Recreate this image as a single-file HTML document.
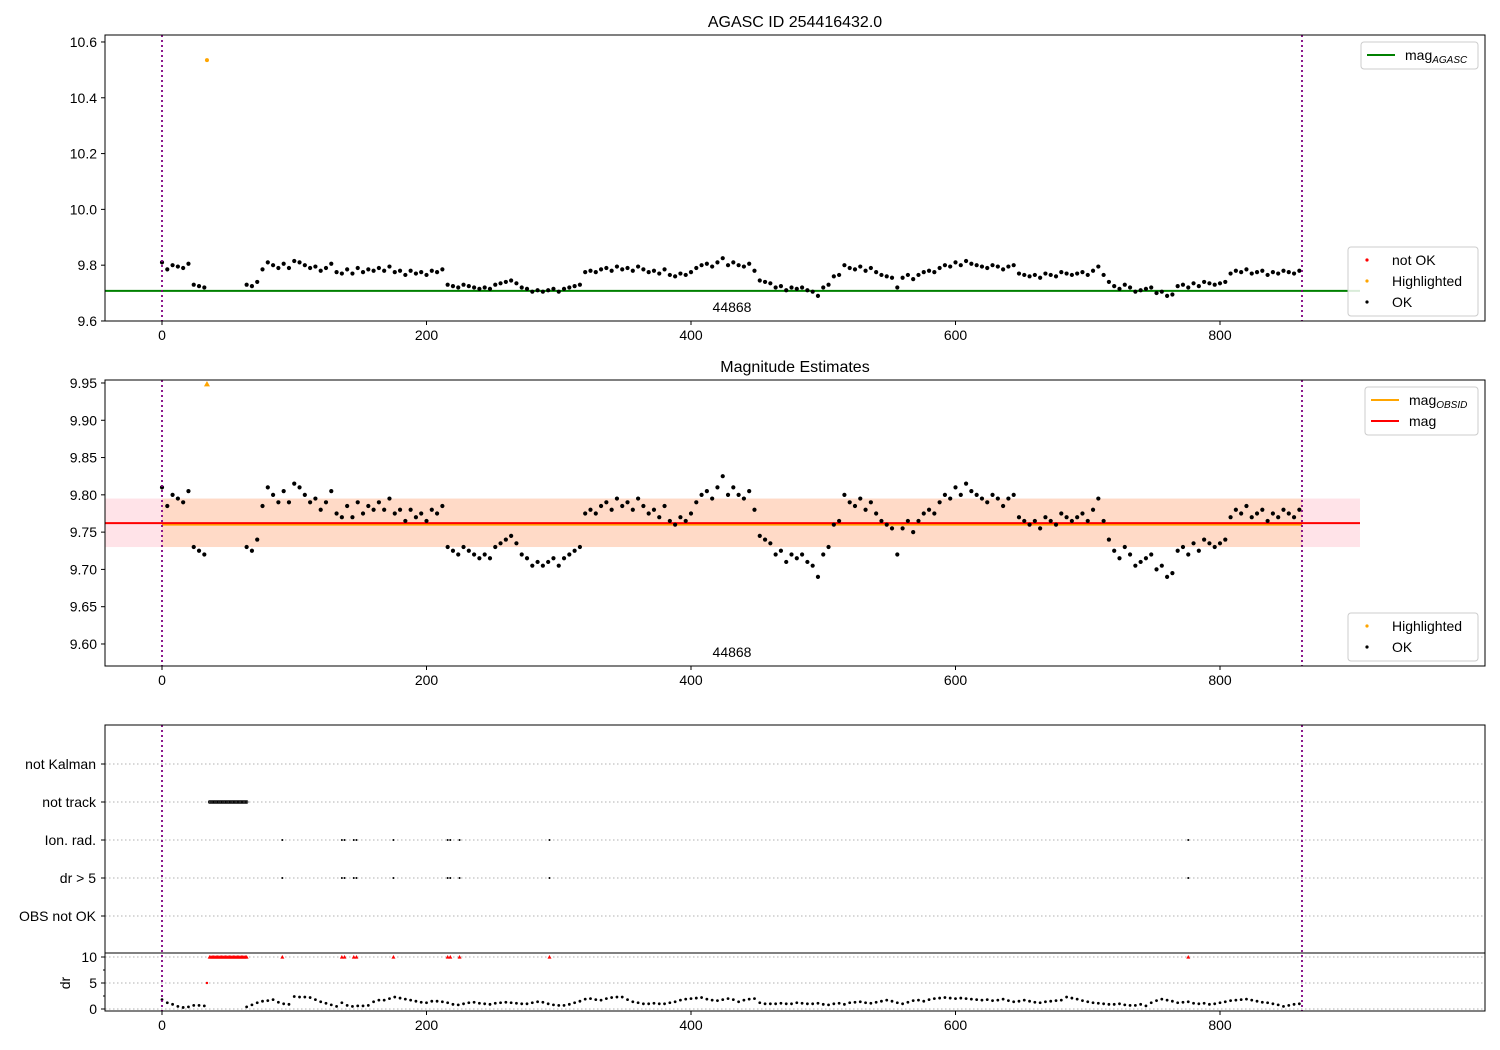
<!DOCTYPE html>
<html><head><meta charset="utf-8"><style>
body{margin:0;background:#fff}
svg{font-family:"Liberation Sans","DejaVu Sans",sans-serif;display:block}
</style></head><body>
<svg id="fig" width="1500" height="1050" xmlns="http://www.w3.org/2000/svg"></svg>
<script>
const frames = [0,4,8,12,16,20,24,28,32,64,68,72,76,80,84,88,92,96,100,104,108,112,116,120,124,128,132,136,140,144,148,152,156,160,164,168,172,176,180,184,188,192,196,200,204,208,212,216,220,224,228,232,236,240,244,248,252,256,260,264,268,272,276,280,284,288,292,296,300,304,308,312,316,320,324,328,332,336,340,344,348,352,356,360,364,368,372,376,380,384,388,392,396,400,404,408,412,416,420,424,428,432,436,440,444,448,452,456,460,464,468,472,476,480,484,488,492,496,500,504,508,512,516,520,524,528,532,536,540,544,548,552,556,560,564,568,572,576,580,584,588,592,596,600,604,608,612,616,620,624,628,632,636,640,644,648,652,656,660,664,668,672,676,680,684,688,692,696,700,704,708,712,716,720,724,728,732,736,740,744,748,752,756,760,764,768,772,776,780,784,788,792,796,800,804,808,812,816,820,824,828,832,836,840,844,848,852,856,860];
const magValues = [9.81,9.785,9.80,9.795,9.79,9.805,9.73,9.725,9.72,9.73,9.725,9.74,9.785,9.81,9.80,9.79,9.805,9.79,9.815,9.81,9.80,9.79,9.795,9.78,9.79,9.805,9.775,9.77,9.785,9.77,9.79,9.775,9.785,9.78,9.79,9.78,9.795,9.775,9.78,9.765,9.78,9.77,9.775,9.765,9.78,9.775,9.785,9.73,9.725,9.72,9.73,9.725,9.72,9.715,9.72,9.715,9.73,9.735,9.74,9.745,9.735,9.72,9.715,9.705,9.71,9.705,9.71,9.715,9.705,9.715,9.72,9.725,9.73,9.775,9.78,9.775,9.785,9.79,9.78,9.795,9.785,9.79,9.78,9.795,9.785,9.775,9.78,9.77,9.785,9.765,9.76,9.77,9.765,9.775,9.79,9.80,9.805,9.795,9.81,9.825,9.80,9.81,9.80,9.795,9.805,9.78,9.745,9.74,9.735,9.72,9.725,9.71,9.72,9.715,9.72,9.71,9.705,9.69,9.72,9.73,9.76,9.765,9.80,9.79,9.785,9.795,9.78,9.79,9.775,9.765,9.76,9.755,9.72,9.755,9.765,9.75,9.765,9.775,9.78,9.775,9.79,9.80,9.795,9.81,9.80,9.815,9.805,9.80,9.795,9.79,9.80,9.795,9.785,9.795,9.80,9.77,9.765,9.76,9.765,9.755,9.77,9.765,9.76,9.775,9.77,9.765,9.77,9.775,9.765,9.78,9.795,9.765,9.74,9.725,9.715,9.73,9.72,9.705,9.71,9.715,9.72,9.70,9.705,9.69,9.695,9.725,9.73,9.72,9.735,9.725,9.74,9.735,9.73,9.735,9.74,9.77,9.78,9.775,9.785,9.77,9.775,9.78,9.765,9.775,9.77,9.78,9.775,9.77,9.78];
const drValues = [1.8,1.2,0.9,0.5,0.3,0.4,0.7,0.7,0.6,0.4,0.8,1.2,1.5,1.6,1.8,1.3,1.0,0.9,2.4,2.3,2.3,2.2,1.8,1.4,1.1,0.8,0.5,1.2,0.7,0.5,0.6,0.6,0.7,1.4,1.7,1.7,2.0,2.3,2.1,1.9,1.7,1.5,1.3,1.2,1.5,1.5,1.4,1.2,0.9,0.8,1.0,1.2,1.3,1.1,1.0,0.9,1.1,1.2,1.3,1.2,1.1,1.0,1.0,1.2,1.4,1.3,1.0,0.8,0.7,0.7,0.9,1.2,1.5,1.9,2.0,1.8,1.7,2.0,2.2,2.3,2.3,1.8,1.4,1.2,1.0,1.0,1.1,1.0,1.0,1.2,1.4,1.7,1.9,2.0,2.1,2.2,1.9,1.7,1.6,1.8,2.0,1.8,1.4,1.7,1.9,2.0,1.2,1.0,1.0,1.0,1.1,1.0,1.0,1.2,1.1,1.0,1.0,1.1,0.9,0.8,1.0,1.1,0.9,1.2,1.3,1.4,1.2,1.1,1.3,1.5,1.7,1.5,1.2,1.0,1.3,1.6,1.7,1.5,1.8,2.0,2.1,2.2,2.1,2.0,2.1,2.0,1.9,1.8,1.7,1.8,1.6,1.7,1.9,1.6,1.4,1.5,1.7,1.5,1.3,1.2,1.4,1.5,1.6,1.7,2.3,2.1,1.9,1.6,1.4,1.2,1.1,1.0,0.9,0.9,1.0,0.8,0.7,0.7,0.9,0.6,1.2,1.6,1.9,1.7,1.5,1.2,1.3,1.4,1.1,1.0,1.1,0.9,1.0,1.2,1.4,1.6,1.7,1.8,1.9,1.7,1.5,1.3,1.2,1.0,0.8,0.5,0.7,0.9,1.0];
const notTrackFrames = [36,37,38,39,40,41,42,43,44,45,46,47,48,49,50,51,52,53,54,55,56,57,58,59,60,61,62,63,64];
const drFlagFrames = [91,136,138,145,147,175,216,218,225,293,776];
const highlightFrame = 34, highlightMagTop = 10.535, highlightMagMid = 9.95;
const magAgasc = 9.708, magObsid = 9.762, magErrLo = 9.730, magErrHi = 9.795;
const xTicks = [0,200,400,600,800];
const topYTicks = [9.6,9.8,10.0,10.2,10.4,10.6];
const midYTicks = [9.60,9.65,9.70,9.75,9.80,9.85,9.90,9.95];
const flagLabels = ["not Kalman","not track","Ion. rad.","dr > 5","OBS not OK"];
const drTicks = [0,5,10];

const NS="http://www.w3.org/2000/svg", svg=document.getElementById('fig');
function el(tag, attrs, parent){const e=document.createElementNS(NS,tag);for(const k in attrs)e.setAttribute(k,attrs[k]);(parent||svg).appendChild(e);return e;}
const L=105,R=1485, FS=14;
const xs=v=>162+v*1.3225;
const yTop=m=>35+(10.625-m)*279;
const yMid=m=>380+(9.954-m)*745.7;
const yFlag=i=>764+i*38;
const yDr=d=>1009-d*5.2;

function axisBox(y0,y1,name){const r=el('rect',{x:L,y:y0,width:R-L,height:y1-y0,fill:'none',stroke:'#000','stroke-width':1});}
function xAxis(yb,name){const g=el('g',{});
 xTicks.forEach(t=>{el('line',{x1:xs(t),x2:xs(t),y1:yb,y2:yb+4,stroke:'#000'},g);const tx=el('text',{x:xs(t),y:yb+19,'text-anchor':'middle','font-size':FS},g);tx.textContent=t;});}
function yAxis(ticks,fy,fmt,name){const g=el('g',{});
 ticks.forEach(t=>{const y=fy(t);el('line',{x1:L-4,x2:L,y1:y,y2:y,stroke:'#000'},g);const tx=el('text',{x:L-8,y:y+5,'text-anchor':'end','font-size':FS},g);tx.textContent=fmt(t);});}
function vlines(y0,y1){[0,862].forEach(f=>{const l=el('line',{x1:xs(f),x2:xs(f),y1:y0,y2:y1,stroke:'#800080','stroke-width':1.8,'stroke-dasharray':'2,3'});});}
function txt(x,y,s,size,anchor,name){const t=el('text',{x:x,y:y,'font-size':size,'text-anchor':anchor||'start'});t.textContent=s;return t;}
function dots(fy,name){const g=el('g',{});
 frames.forEach((f,i)=>{el('circle',{cx:xs(f),cy:fy(magValues[i]),r:2.1,fill:'#000'},g);});}
function tri(x,y,s,color,parent){return el('path',{d:`M${x},${y-s}L${x+s},${y+s*0.8}L${x-s},${y+s*0.8}Z`,fill:color},parent);}

// ---- Top panel
txt(795,27,'AGASC ID 254416432.0',16,'middle','top-title');
const gl=el('line',{x1:L,x2:1360,y1:yTop(magAgasc),y2:yTop(magAgasc),stroke:'#008000','stroke-width':2});

dots(yTop,'top-ok-points');
const hp=el('circle',{cx:xs(highlightFrame),cy:yTop(highlightMagTop),r:2,fill:'#ffa500'});

vlines(35,321);
axisBox(35,321,'top-axes');
xAxis(321,'top-x-axis');
yAxis(topYTicks,yTop,v=>v.toFixed(1),'top-y-axis');
txt(732,312,'44868',FS,'middle','top-obsid-label');

// ---- Middle panel
txt(795,372,'Magnitude Estimates',16,'middle','mid-title');
const band1=el('rect',{x:L,y:yMid(magErrHi),width:1360-L,height:yMid(magErrLo)-yMid(magErrHi),fill:'#ffc0cb','fill-opacity':0.45});

const band2=el('rect',{x:xs(0),y:yMid(magErrHi),width:xs(862)-xs(0),height:yMid(magErrLo)-yMid(magErrHi),fill:'#ffa500','fill-opacity':0.14});

const ol=el('line',{x1:xs(0),x2:xs(862),y1:yMid(magObsid)+1.5,y2:yMid(magObsid)+1.5,stroke:'#ffa500','stroke-width':2});

const rl=el('line',{x1:L,x2:1360,y1:yMid(magObsid),y2:yMid(magObsid),stroke:'#ff0000','stroke-width':2});

dots(yMid,'mid-ok-points');
const ht=tri(xs(highlightFrame),yMid(highlightMagMid)+1,3,'#ffa500');

vlines(380,666);
axisBox(380,666,'mid-axes');
xAxis(666,'mid-x-axis');
yAxis(midYTicks,yMid,v=>v.toFixed(2),'mid-y-axis');
txt(732,657,'44868',FS,'middle','mid-obsid-label');

// ---- Flags panel
const fg=el('g',{});
flagLabels.forEach((s,i)=>{el('line',{x1:L,x2:R,y1:yFlag(i),y2:yFlag(i),stroke:'#b0b0b0','stroke-dasharray':'1.5,2.5'},fg);el('line',{x1:L-4,x2:L,y1:yFlag(i),y2:yFlag(i),stroke:'#000'},fg);const t=el('text',{x:L-9,y:yFlag(i)+5,'font-size':FS,'text-anchor':'end'},fg);t.textContent=s;});
const ntg=el('g',{});
notTrackFrames.forEach(f=>el('circle',{cx:xs(f),cy:yFlag(1),r:1.3,fill:'none',stroke:'#000','stroke-width':0.8},ntg));
const dfg=el('g',{});
drFlagFrames.forEach(f=>{el('circle',{cx:xs(f),cy:yFlag(2),r:1,fill:'#000'},dfg);el('circle',{cx:xs(f),cy:yFlag(3),r:1,fill:'#000'},dfg);});
// dr panel
const dg=el('g',{});
drTicks.forEach(t=>{el('line',{x1:L,x2:R,y1:yDr(t),y2:yDr(t),stroke:'#b0b0b0','stroke-dasharray':'1.5,2.5'},dg);el('line',{x1:L-4,x2:L,y1:yDr(t),y2:yDr(t),stroke:'#000'},dg);const tx=el('text',{x:L-8,y:yDr(t)+5,'font-size':FS,'text-anchor':'end'},dg);tx.textContent=t;});
[2.5,7.5].forEach(t=>el('line',{x1:L-2,x2:L,y1:yDr(t),y2:yDr(t),stroke:'#000'},dg));
const dyl=el('text',{x:70,y:983,'font-size':FS,'text-anchor':'middle',transform:'rotate(-90 70 983)'});dyl.textContent='dr';

const drp=el('g',{});
frames.forEach((f,i)=>el('circle',{cx:xs(f),cy:yDr(drValues[i]),r:1.4,fill:'#000'},drp));
const rtg=el('g',{});
notTrackFrames.concat(drFlagFrames).forEach(f=>tri(xs(f),yDr(10),2,'#ff0000',rtg));
el('circle',{cx:xs(highlightFrame),cy:yDr(5),r:1.2,fill:'#ff0000'},rtg);
vlines(725,1011);
axisBox(725,953,'flags-axes');
axisBox(953,1011,'dr-axes');
xAxis(1011,'dr-x-axis');

// ---- Legends
function legend(x,y,w,entries,name){const g=el('g',{});
 el('rect',{x:x,y:y,width:w,height:entries.length*21+6,rx:3,fill:'#fff','fill-opacity':0.85,stroke:'#ccc'},g);
 entries.forEach((e,i)=>{const cy=y+13+i*21;
  if(e.type==='line')el('line',{x1:x+6,x2:x+34,y1:cy,y2:cy,stroke:e.c,'stroke-width':2},g);
  else el('circle',{cx:x+19,cy:cy,r:1.6,fill:e.c},g);
  const t=el('text',{x:x+44,y:cy+5,'font-size':FS},g);t.innerHTML=e.t;});}
legend(1361,42,117,[{type:'line',c:'#008000',t:'mag<tspan font-size="10" font-style="italic" dy="3">AGASC</tspan>'}],'top-legend-line');
legend(1348,247,130,[{c:'#ff0000',t:'not OK'},{c:'#ffa500',t:'Highlighted'},{c:'#000',t:'OK'}],'top-legend-points');
legend(1365,387,113,[{type:'line',c:'#ffa500',t:'mag<tspan font-size="10" font-style="italic" dy="3">OBSID</tspan>'},{type:'line',c:'#ff0000',t:'mag'}],'mid-legend-lines');
legend(1348,613,130,[{c:'#ffa500',t:'Highlighted'},{c:'#000',t:'OK'}],'mid-legend-points');
</script>
</body></html>
